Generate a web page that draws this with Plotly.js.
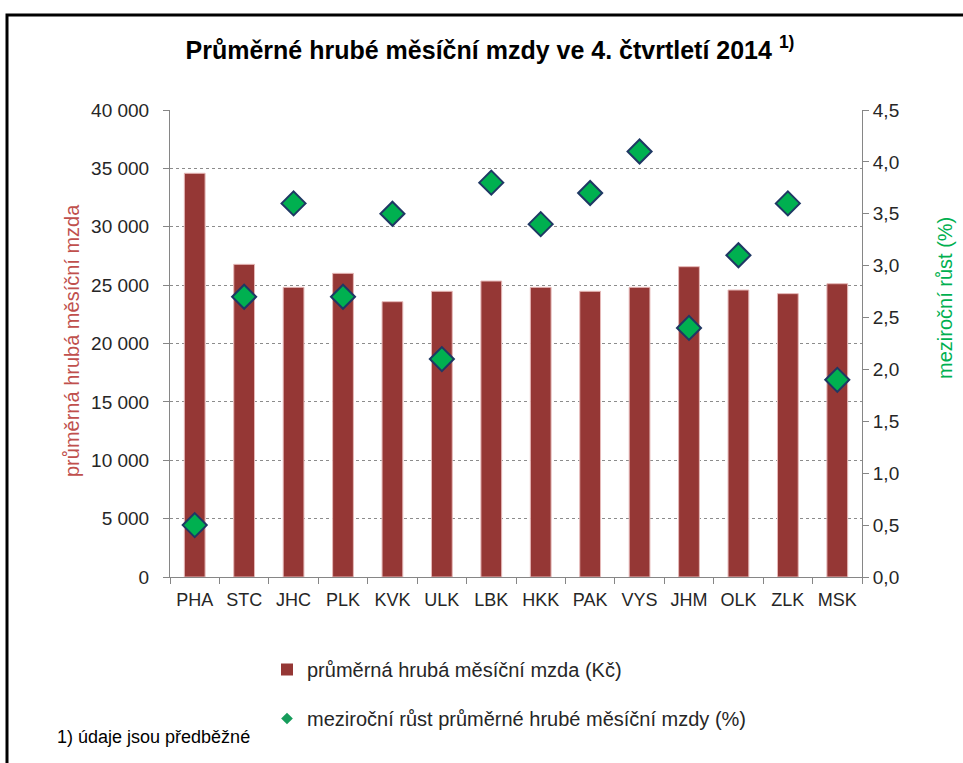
<!DOCTYPE html>
<html>
<head>
<meta charset="utf-8">
<script src="https://cdn.plot.ly/plotly-3.0.1.min.js"></script>
<style>html,body{margin:0;padding:0;background:#fff;}#chart{width:963px;height:763px;}</style>
</head>
<body>
<div id="chart"></div>
<script>
const categories = ["PHA","STC","JHC","PLK","KVK","ULK","LBK","HKK","PAK","VYS","JHM","OLK","ZLK","MSK"];
const wages = [34580, 26780, 24810, 26010, 23580, 24470, 25350, 24810, 24470, 24810, 26580, 24580, 24270, 25120];
const growth = [0.5, 2.7, 3.6, 2.7, 3.5, 2.1, 3.8, 3.4, 3.7, 4.1, 2.4, 3.1, 3.6, 1.9];
const leftTicks = [0, 5000, 10000, 15000, 20000, 25000, 30000, 35000, 40000];
const rightTicks = [0, 0.5, 1, 1.5, 2, 2.5, 3, 3.5, 4, 4.5];
const seriesNames = ["průměrná hrubá měsíční mzda (Kč)", "meziroční růst průměrné hrubé měsíční mzdy (%)"];
const titleText = "<b>Průměrné hrubé měsíční mzdy ve 4. čtvrtletí 2014 <sup>1)</sup></b>";
const leftTitle = "průměrná hrubá měsíční mzda";
const rightTitle = "meziroční růst (%)";
const footnote = "1) údaje jsou předběžné";

const barColor = "#953735";
const dotColor = "#00B050";
const font = "Liberation Sans, Arial, sans-serif";

const traces = [
  {type: "bar", x: categories, y: wages, width: 0.42, yaxis: "y",
   marker: {color: barColor, line: {color: "#E6B9B8", width: 1}},
   showlegend: false, hoverinfo: "x+y"},
  {type: "scatter", mode: "markers", x: categories, y: growth, yaxis: "y2",
   marker: {symbol: "diamond", size: 18.5, color: dotColor, line: {color: "#1F3864", width: 2}},
   showlegend: false},
  {type: "bar", x: [null], y: [null], name: seriesNames[0], legendgroup: "a",
   marker: {color: barColor}, showlegend: true},
  {type: "scatter", mode: "markers", x: [null], y: [null], name: seriesNames[1], legendgroup: "b",
   marker: {symbol: "diamond", size: 9, color: "#169C5B", line: {width: 0}}, showlegend: true}
];

const pw = 692, ph = 467, ml = 170, mt = 110;
const px = v => (v - ml) / pw;
const py = v => (mt + ph - v) / ph;

const layout = {
  width: 963, height: 763,
  margin: {l: 170, r: 101, t: 110, b: 186},
  paper_bgcolor: "#fff", plot_bgcolor: "#fff",
  separators: ", ",
  font: {family: font, size: 19, color: "#262626"},
  title: {text: titleText, x: 490/963, xref: "container", xanchor: "center",
          y: 1 - 50/763, yref: "container", yanchor: "middle",
          font: {family: font, size: 25, color: "#000"}},
  xaxis: {type: "category", tickson: "boundaries", ticks: "outside", ticklen: 6, tickcolor: "#868686",
          showline: true, linecolor: "#868686", linewidth: 1, showgrid: false, tickangle: 0,
          tickfont: {size: 18, color: "#262626"}, range: [-0.5, 13.5], ticklabelstandoff: 6},
  yaxis: {range: [0, 40000], tickvals: leftTicks, tickformat: ",d", ticks: "outside", ticklen: 6,
          tickcolor: "#868686", showline: true, linecolor: "#868686", linewidth: 1,
          showgrid: true, gridcolor: "#8C8C8C", griddash: "dot", gridwidth: 1, zeroline: false,
          tickfont: {size: 19, color: "#262626"}, ticklabelstandoff: 10},
  yaxis2: {range: [0, 4.5], tickvals: rightTicks, tickformat: ".1f", overlaying: "y", side: "right",
           ticks: "outside", ticklen: 6, tickcolor: "#868686", showline: true, linecolor: "#868686",
           linewidth: 1, showgrid: false, zeroline: false,
           tickfont: {size: 19, color: "#262626"}},
  legend: {x: px(267), y: py(650), xanchor: "left", yanchor: "top", orientation: "v",
           font: {size: 20, color: "#262626"}, tracegroupgap: 20, bgcolor: "rgba(0,0,0,0)",
           itemwidth: 30},
  annotations: [
    {text: leftTitle, textangle: -90, xref: "paper", yref: "paper", x: px(72), y: py(340),
     xanchor: "center", yanchor: "middle", showarrow: false, font: {size: 20, color: "#C0504D"}},
    {text: rightTitle, textangle: -90, xref: "paper", yref: "paper", x: px(945), y: py(298),
     xanchor: "center", yanchor: "middle", showarrow: false, font: {size: 20, color: "#00B050"}},
    {text: footnote, xref: "paper", yref: "paper", x: px(55), y: py(737),
     xanchor: "left", yanchor: "middle", showarrow: false, font: {size: 18, color: "#000"}}
  ],
  shapes: [
    {type: "path", xref: "paper", yref: "paper",
     path: `M ${px(7)} ${py(775)} L ${px(7)} ${py(15)} L ${px(975)} ${py(15)}`,
     line: {color: "#000", width: 3}}
  ]
};

Plotly.newPlot("chart", traces, layout, {displayModeBar: false, staticPlot: true});
</script>
</body>
</html>
